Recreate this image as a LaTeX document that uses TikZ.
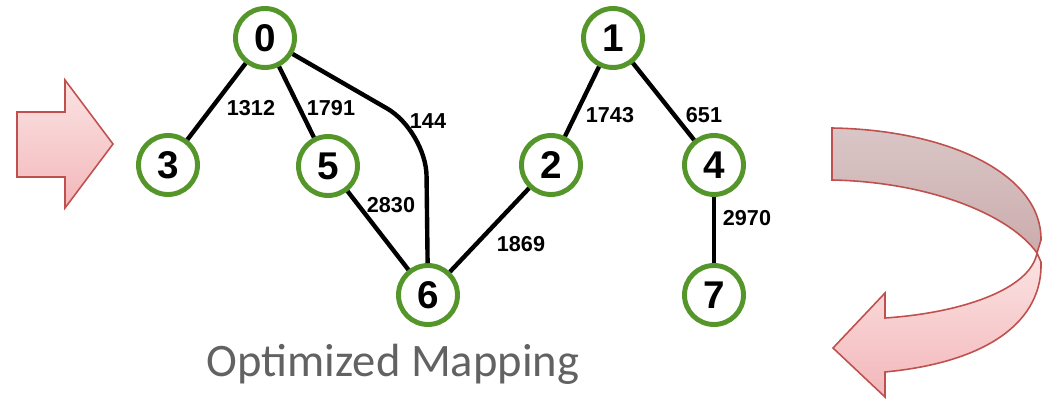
\documentclass[tikz,border=0pt]{standalone}
\usepackage{fontspec}
\setmainfont{Liberation Sans}
\newfontfamily\captionfont{Carlito}
\usepackage{xcolor}
\usepackage{tikz}
\usetikzlibrary{shapes,arrows,positioning}

\definecolor{vgreen}{RGB}{84,150,42}
\definecolor{arrowred}{RGB}{192,80,77}
\definecolor{pinktop}{RGB}{251,227,227}
\definecolor{pinkbot}{RGB}{243,183,186}
\definecolor{backtop}{RGB}{217,198,198}
\definecolor{backbot}{RGB}{204,172,173}
\definecolor{captgray}{RGB}{98,98,98}

\tikzset{
    vertex/.style={
        circle,
        draw=vgreen,
        line width=2.8pt,
        fill=white,
        minimum size=1.18cm,
        inner sep=0pt,
        font=\fontsize{22}{24}\selectfont\bfseries
    },
    edge/.style={
        line width=2.5pt,
        black
    },
    weight/.style={
        inner sep=0pt,
        font=\fontsize{12.3}{14}\selectfont\bfseries
    },
    blockarrow/.style={
        draw=arrowred,
        line width=0.9pt,
        line join=miter,
        top color=pinktop,
        bottom color=pinkbot
    },
    backface/.style={
        draw=arrowred,
        line width=0.9pt,
        top color=backtop,
        bottom color=backbot
    }
}

\begin{document}
\begin{tikzpicture}[x=0.02cm, y=-0.02cm]
                \useasboundingbox (0,0) rectangle (1049,401);

                % left block arrow
                \draw[blockarrow]
                    (17,112) -- (65,112) -- (65,80) -- (113,144)
                    -- (65,208) -- (65,177) -- (17,177) -- cycle;

                % curved arrow, back face
                \draw[backface]
                    (832,128) .. controls (950,130) and (1042,175) .. (1041,240)
                    -- (1037,253) .. controls (1010,215) and (930,182) .. (832,180)
                    -- cycle;

                % curved arrow, front face
                \draw[blockarrow]
                    (1037,253) .. controls (1030,290) and (960,313) .. (885,318)
                    -- (885,293) -- (833,348) -- (885,397) -- (885,372)
                    .. controls (990,362) and (1043,320) .. (1041,262)
                    -- cycle;

                % vertices
                \node[vertex] (n0) at (265,38) {0};
                \node[vertex] (n1) at (613,38) {1};
                \node[vertex] (n3) at (168,165) {3};
                \node[vertex] (n5) at (328,166) {5};
                \node[vertex] (n2) at (551,165) {2};
                \node[vertex] (n4) at (714,165) {4};
                \node[vertex] (n6) at (428,295) {6};
                \node[vertex] (n7) at (714,295) {7};

                % edges
                \draw[edge] (n0) -- (n3);
                \draw[edge] (n0) -- (n5);
                \draw[edge, rounded corners=0.9cm] (n0) -- (426,131) -- (n6);
                \draw[edge] (n5) -- (n6);
                \draw[edge] (n6) -- (n2);
                \draw[edge] (n2) -- (n1);
                \draw[edge] (n1) -- (n4);
                \draw[edge] (n4) -- (n7);

                % weights
                \node[weight] (w03) at (251,108) {1312};
                \node[weight] (w05) at (331,108) {1791};
                \node[weight] (w06) at (428,121) {144};
                \node[weight] (w56) at (391,205) {2830};
                \node[weight] (w62) at (521,244) {1869};
                \node[weight] (w21) at (610,115) {1743};
                \node[weight] (w14) at (704,115) {651};
                \node[weight] (w47) at (747,218) {2970};

                \node[
                    anchor=base,
                    inner sep=0pt,
                    text=captgray,
                    font=\captionfont\fontsize{26.5}{30}\selectfont
                    ] (title) at (393,377) {Optimized Mapping};

            \end{tikzpicture}
\end{document}
